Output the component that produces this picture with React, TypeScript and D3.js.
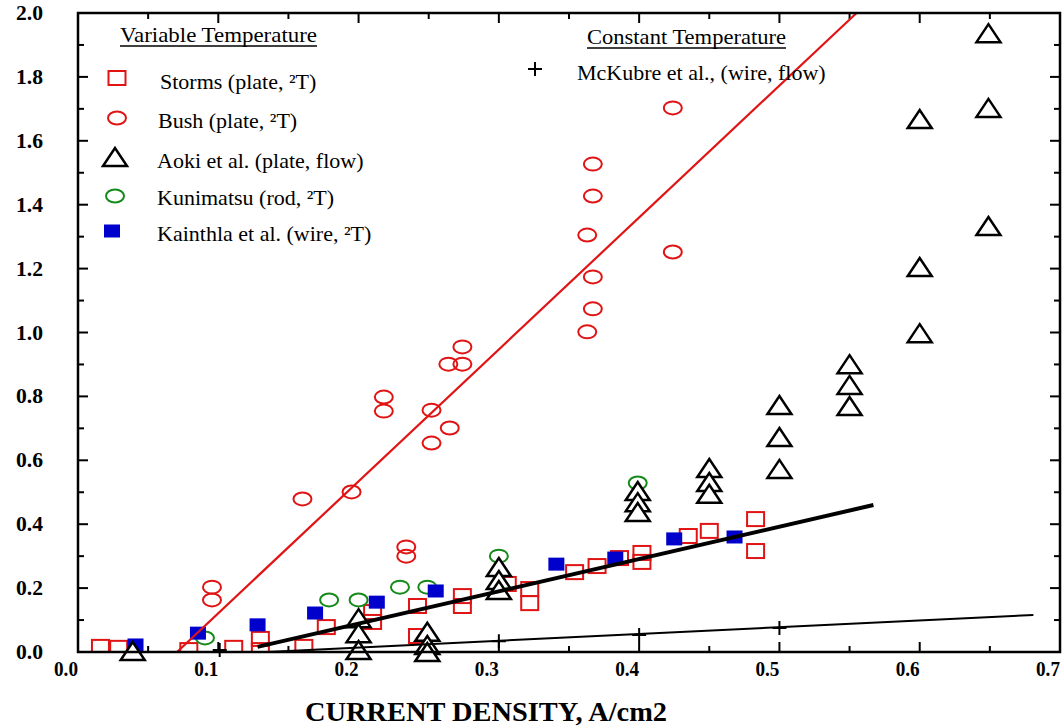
import React from "react";
import * as d3 from "d3";

// values (x: current density A/cm2, y: excess power)
const storms: [number, number][] = [
  [0.016, 0.016], [0.029, 0.013], [0.079, 0.006], [0.111, 0.013],
  [0.13, 0.041], [0.13, 0.006], [0.161, 0.016], [0.177, 0.078],
  [0.21, 0.125], [0.21, 0.094], [0.242, 0.144], [0.242, 0.05],
  [0.274, 0.175], [0.274, 0.144], [0.306, 0.213], [0.322, 0.197],
  [0.322, 0.153], [0.354, 0.25], [0.37, 0.269], [0.386, 0.294],
  [0.402, 0.31], [0.402, 0.282], [0.435, 0.363], [0.45, 0.379],
  [0.483, 0.416], [0.483, 0.316],
];
const bush: [number, number][] = [
  [0.0955, 0.203], [0.0955, 0.163], [0.16, 0.479], [0.195, 0.501],
  [0.234, 0.329], [0.234, 0.3], [0.218, 0.798], [0.218, 0.754],
  [0.252, 0.757], [0.265, 0.701], [0.252, 0.654], [0.274, 0.955],
  [0.264, 0.901], [0.274, 0.901], [0.424, 1.703], [0.367, 1.527],
  [0.367, 1.427], [0.363, 1.305], [0.424, 1.252], [0.367, 1.174],
  [0.367, 1.074], [0.363, 1.002],
];
const aoki: [number, number][] = [
  [0.039, 0.003], [0.2, 0.106], [0.2, 0.059], [0.2, 0.006],
  [0.249, 0.063], [0.249, 0.022], [0.249, 0.0], [0.3, 0.266],
  [0.3, 0.225], [0.3, 0.194], [0.399, 0.504], [0.399, 0.469],
  [0.399, 0.438], [0.45, 0.576], [0.45, 0.532], [0.45, 0.495],
  [0.5, 0.773], [0.5, 0.673], [0.5, 0.573], [0.55, 0.901],
  [0.55, 0.836], [0.55, 0.77], [0.6, 1.668], [0.6, 1.205],
  [0.6, 0.998], [0.649, 1.937], [0.649, 1.703], [0.649, 1.333],
];
const kunimatsu: [number, number][] = [
  [0.0905, 0.044], [0.179, 0.163], [0.2, 0.163], [0.2295, 0.203],
  [0.249, 0.203], [0.3, 0.3], [0.399, 0.529],
];
const kainthla: [number, number][] = [
  [0.041, 0.022], [0.0855, 0.059], [0.128, 0.085], [0.169, 0.122],
  [0.213, 0.156], [0.255, 0.191], [0.341, 0.275], [0.383, 0.294],
  [0.425, 0.354], [0.468, 0.36],
];
const mckubre: [number, number][] = [
  [0.101, 0.006], [0.3, 0.034], [0.4, 0.053], [0.5, 0.075],
];

// fitted lines (end points)
const bushFit: [number, number][] = [[0.0706, 0], [0.555, 2.0]];
const stormsFit: [number, number][] = [[0.128, 0.016], [0.567, 0.46]];
const mckubreFit: [number, number][] = [[0.135, 0.0], [0.681, 0.116]];

const xTickLabels = ["0.0", "0.1", "0.2", "0.3", "0.4", "0.5", "0.6", "0.7"];
const yTickLabels = ["0.0", "0.2", "0.4", "0.6", "0.8", "1.0", "1.2", "1.4", "1.6", "1.8", "2.0"];

const legendVariable = [
  { kind: "square", label: "Storms (plate, ²T)" },
  { kind: "circle", label: "Bush (plate, ²T)" },
  { kind: "triangle", label: "Aoki et al. (plate, flow)" },
  { kind: "green", label: "Kunimatsu (rod, ²T)" },
  { kind: "blue", label: "Kainthla et al. (wire, ²T)" },
];

const RED = "#e01414";
const GREEN = "#15891a";
const BLUE = "#0000cc";
const SERIF = '"Liberation Serif", "Times New Roman", serif';

const width = 1063;
const height = 726;
const margins = { top: 13, right: 3, bottom: 74, left: 78 };

const Marker = ({ kind, x, y }: { kind: string; x: number; y: number }) => {
  if (kind === "square")
    return <rect x={x - 8.5} y={y - 7} width={17} height={14} fill="none" stroke={RED} strokeWidth={2} />;
  if (kind === "circle")
    return <ellipse cx={x} cy={y} rx={9} ry={6.5} fill="none" stroke={RED} strokeWidth={2} />;
  if (kind === "green")
    return <ellipse cx={x} cy={y} rx={9} ry={6.5} fill="none" stroke={GREEN} strokeWidth={2} />;
  if (kind === "blue")
    return <rect x={x - 8} y={y - 6.5} width={16} height={13} fill={BLUE} />;
  if (kind === "triangle")
    return (
      <path
        d={`M${x - 12},${y + 9}L${x + 12},${y + 9}L${x},${y - 9}Z`}
        fill="white"
        stroke="black"
        strokeWidth={2.5}
        strokeLinejoin="miter"
      />
    );
  // plus
  return (
    <path d={`M${x - 7},${y}H${x + 7}M${x},${y - 7}V${y + 7}`} stroke="black" strokeWidth={2} />
  );
};

export default function App() {
  const xScale = d3.scaleLinear().domain([0, 0.7]).range([margins.left, width - margins.right]);
  const yScale = d3.scaleLinear().domain([0, 2]).range([height - margins.bottom, margins.top]);
  const x0 = margins.left;
  const x1 = width - margins.right;
  const y0 = height - margins.bottom;
  const y1 = margins.top;

  const line = d3
    .line<[number, number]>()
    .x((d) => xScale(d[0]))
    .y((d) => yScale(d[1]));

  const xMinor = d3.range(0, 0.7001, 0.05);
  const yMinor = d3.range(0, 2.0001, 0.1);

  return (
    <div style={{ position: "absolute", left: 0, top: 0 }}>
      <svg width={width} height={height} style={{ display: "block", background: "white" }}>
        <defs>
          <clipPath id="plot">
            <rect x={x0} y={y1} width={x1 - x0} height={y0 - y1} />
          </clipPath>
        </defs>

        {/* ticks on all four sides, pointing inward */}
        <g stroke="black" strokeWidth={2}>
          {xMinor.map((v, i) => {
            const len = i % 2 === 0 ? 10 : 6;
            const px = xScale(v);
            return (
              <g key={"xt" + i}>
                <line x1={px} x2={px} y1={y0} y2={y0 - len} />
                <line x1={px} x2={px} y1={y1} y2={y1 + len} />
              </g>
            );
          })}
          {yMinor.map((v, i) => {
            const len = i % 2 === 0 ? 10 : 6;
            const py = yScale(v);
            return (
              <g key={"yt" + i}>
                <line x1={x0} x2={x0 + len} y1={py} y2={py} />
                <line x1={x1} x2={x1 - len} y1={py} y2={py} />
              </g>
            );
          })}
        </g>

        {/* tick labels */}
        <g fontFamily={SERIF} fontWeight="bold" fontSize={21} fill="black">
          {xTickLabels.map((t) => (
            <text key={"xl" + t} x={xScale(+t) - 12} y={y0 + 24} textAnchor="middle" textLength={24} lengthAdjust="spacingAndGlyphs">
              {t}
            </text>
          ))}
          {yTickLabels.map((t) => (
            <text key={"yl" + t} x={43} y={yScale(+t) + 7} textAnchor="end" textLength={27} lengthAdjust="spacingAndGlyphs">
              {t}
            </text>
          ))}
        </g>

        {/* axis title */}
        <text
          x={486}
          y={721}
          textAnchor="middle"
          fontFamily={SERIF}
          fontWeight="bold"
          fontSize={28}
          textLength={362}
          lengthAdjust="spacingAndGlyphs"
        >
          CURRENT DENSITY, A/cm2
        </text>

        {/* data */}
        <g clipPath="url(#plot)">
          {storms.map((d, i) => (
            <Marker key={"s" + i} kind="square" x={xScale(d[0])} y={yScale(d[1])} />
          ))}
          {bush.map((d, i) => (
            <Marker key={"b" + i} kind="circle" x={xScale(d[0])} y={yScale(d[1])} />
          ))}
          {kunimatsu.map((d, i) => (
            <Marker key={"k" + i} kind="green" x={xScale(d[0])} y={yScale(d[1])} />
          ))}
          {kainthla.map((d, i) => (
            <Marker key={"ka" + i} kind="blue" x={xScale(d[0])} y={yScale(d[1])} />
          ))}
          <path d={line(bushFit) || ""} fill="none" stroke={RED} strokeWidth={2.2} />
        </g>
        {aoki.map((d, i) => (
          <Marker key={"a" + i} kind="triangle" x={xScale(d[0])} y={yScale(d[1])} />
        ))}
        <path d={line(stormsFit) || ""} fill="none" stroke="black" strokeWidth={4} />
        <path d={line(mckubreFit) || ""} fill="none" stroke="black" strokeWidth={2} />
        {mckubre.map((d, i) => (
          <Marker key={"m" + i} kind="plus" x={xScale(d[0])} y={yScale(d[1])} />
        ))}

        {/* frame */}
        <rect x={x0} y={y1} width={x1 - x0} height={y0 - y1} fill="none" stroke="black" strokeWidth={2.5} />

        {/* legend */}
        <g fontFamily={SERIF} fontSize={22} fill="black">
          <text x={120} y={42} textLength={197} lengthAdjust="spacingAndGlyphs">Variable Temperature</text>
          <line x1={120} x2={317} y1={46} y2={46} stroke="black" strokeWidth={1.3} />
          {legendVariable.map((e, i) => {
            const ys = [78, 118, 157, 196, 231];
            const bs = [89, 128, 168, 205, 241];
            const mx = [117, 117, 115, 115, 112];
            const tx = [160, 158, 157, 157, 157];
            return (
              <g key={"lg" + i}>
                <Marker kind={e.kind} x={mx[i]} y={ys[i]} />
                <text x={tx[i]} y={bs[i]}>{e.label}</text>
              </g>
            );
          })}
          <text x={587} y={44} textLength={199} lengthAdjust="spacingAndGlyphs">Constant Temperature</text>
          <line x1={587} x2={786} y1={48} y2={48} stroke="black" strokeWidth={1.3} />
          <Marker kind="plus" x={535} y={69} />
          <text x={577} y={80}>McKubre et al., (wire, flow)</text>
        </g>
      </svg>
    </div>
  );
}
